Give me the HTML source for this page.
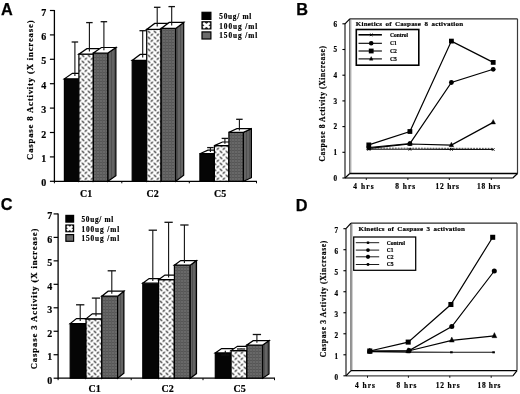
<!DOCTYPE html><html><head><meta charset="utf-8"><style>html,body{margin:0;padding:0;background:#fff;width:520px;height:394px;overflow:hidden}svg{display:block;filter:grayscale(1)}</style></head><body>
<svg width="520" height="394" viewBox="0 0 520 394">
<defs>
<pattern id="dots" patternUnits="userSpaceOnUse" width="6" height="6" x="3.4" y="0.3">
<rect width="6" height="6" fill="#fff"/>
<line x1="0.85" y1="0.85" x2="2.35" y2="2.35" stroke="#000" stroke-width="1.15" stroke-linecap="round"/>
<line x1="3.85" y1="5.15" x2="5.15" y2="3.85" stroke="#000" stroke-width="1.15" stroke-linecap="round"/>
</pattern>
<pattern id="legdots" patternUnits="userSpaceOnUse" width="4" height="4">
<rect width="4" height="4" fill="#fff"/>
<line x1="0.5" y1="0.5" x2="2" y2="2" stroke="#333" stroke-width="0.9"/>
</pattern>
<pattern id="gray" patternUnits="userSpaceOnUse" width="3" height="3">
<rect width="3" height="3" fill="#686868"/>
<rect width="3" height="1" fill="#565656"/>
<rect width="1" height="3" fill="#5c5c5c"/>
</pattern>
<pattern id="grayside" patternUnits="userSpaceOnUse" width="3" height="3">
<rect width="3" height="3" fill="#646464"/>
<rect width="1" height="3" fill="#505050"/>
</pattern>
</defs>
<rect width="520" height="394" fill="#fff"/>
<line x1="54.4" y1="10" x2="54.4" y2="181.9" stroke="#000" stroke-width="1.3" />
<line x1="49.9" y1="181.3" x2="54.4" y2="181.3" stroke="#000" stroke-width="1.2" />
<text x="46.3" y="186.3" font-size="10" font-weight="bold" font-family='"Liberation Serif", serif' text-anchor="end" fill="#000" stroke="#000" stroke-width="0.2" >0</text>
<line x1="49.9" y1="156.9" x2="54.4" y2="156.9" stroke="#000" stroke-width="1.2" />
<text x="46.3" y="161.9" font-size="10" font-weight="bold" font-family='"Liberation Serif", serif' text-anchor="end" fill="#000" stroke="#000" stroke-width="0.2" >1</text>
<line x1="49.9" y1="132.5" x2="54.4" y2="132.5" stroke="#000" stroke-width="1.2" />
<text x="46.3" y="137.5" font-size="10" font-weight="bold" font-family='"Liberation Serif", serif' text-anchor="end" fill="#000" stroke="#000" stroke-width="0.2" >2</text>
<line x1="49.9" y1="108.1" x2="54.4" y2="108.1" stroke="#000" stroke-width="1.2" />
<text x="46.3" y="113.1" font-size="10" font-weight="bold" font-family='"Liberation Serif", serif' text-anchor="end" fill="#000" stroke="#000" stroke-width="0.2" >3</text>
<line x1="49.9" y1="83.7" x2="54.4" y2="83.7" stroke="#000" stroke-width="1.2" />
<text x="46.3" y="88.7" font-size="10" font-weight="bold" font-family='"Liberation Serif", serif' text-anchor="end" fill="#000" stroke="#000" stroke-width="0.2" >4</text>
<line x1="49.9" y1="59.3" x2="54.4" y2="59.3" stroke="#000" stroke-width="1.2" />
<text x="46.3" y="64.3" font-size="10" font-weight="bold" font-family='"Liberation Serif", serif' text-anchor="end" fill="#000" stroke="#000" stroke-width="0.2" >5</text>
<line x1="49.9" y1="34.9" x2="54.4" y2="34.9" stroke="#000" stroke-width="1.2" />
<text x="46.3" y="39.9" font-size="10" font-weight="bold" font-family='"Liberation Serif", serif' text-anchor="end" fill="#000" stroke="#000" stroke-width="0.2" >6</text>
<line x1="49.9" y1="10.5" x2="54.4" y2="10.5" stroke="#000" stroke-width="1.2" />
<text x="46.3" y="15.5" font-size="10" font-weight="bold" font-family='"Liberation Serif", serif' text-anchor="end" fill="#000" stroke="#000" stroke-width="0.2" >7</text>
<line x1="54.4" y1="181.3" x2="257" y2="181.3" stroke="#000" stroke-width="1.3" />
<line x1="54.4" y1="181.3" x2="54.4" y2="183.3" stroke="#000" stroke-width="1" />
<line x1="121.8" y1="181.3" x2="121.8" y2="183.3" stroke="#000" stroke-width="1" />
<line x1="189.3" y1="181.3" x2="189.3" y2="183.3" stroke="#000" stroke-width="1" />
<line x1="256.5" y1="181.3" x2="256.5" y2="183.3" stroke="#000" stroke-width="1" />
<polygon points="64.4,78.8 78.9,78.8 78.9,181.3 64.4,181.3" fill="#050505" stroke="#000" stroke-width="1.2" stroke-linejoin="miter"/>
<polygon points="78.9,78.8 86.9,73.3 86.9,175.8 78.9,181.3" fill="#050505" stroke="#000" stroke-width="1.2" stroke-linejoin="miter"/>
<polygon points="64.4,78.8 78.9,78.8 86.9,73.3 72.4,73.3" fill="#fff" stroke="#000" stroke-width="1.2" stroke-linejoin="miter"/>
<polygon points="78.9,54.2 93.4,54.2 93.4,181.3 78.9,181.3" fill="url(#dots)" stroke="#000" stroke-width="1.2" stroke-linejoin="miter"/>
<polygon points="93.4,54.2 101.4,48.7 101.4,175.8 93.4,181.3" fill="#eee" stroke="#000" stroke-width="1.2" stroke-linejoin="miter"/>
<polygon points="78.9,54.2 93.4,54.2 101.4,48.7 86.9,48.7" fill="#fff" stroke="#000" stroke-width="1.2" stroke-linejoin="miter"/>
<polygon points="93.4,53 107.9,53 107.9,181.3 93.4,181.3" fill="url(#gray)" stroke="#000" stroke-width="1.2" stroke-linejoin="miter"/>
<polygon points="107.9,53 115.9,47.5 115.9,175.8 107.9,181.3" fill="url(#grayside)" stroke="#000" stroke-width="1.2" stroke-linejoin="miter"/>
<polygon points="93.4,53 107.9,53 115.9,47.5 101.4,47.5" fill="#fff" stroke="#000" stroke-width="1.2" stroke-linejoin="miter"/>
<line x1="74.9" y1="76.05" x2="74.9" y2="42" stroke="#111" stroke-width="1.1" />
<line x1="71.65" y1="42" x2="78.15" y2="42" stroke="#111" stroke-width="1.3" />
<line x1="89.4" y1="51.45" x2="89.4" y2="22.6" stroke="#111" stroke-width="1.1" />
<line x1="86.15" y1="22.6" x2="92.65" y2="22.6" stroke="#111" stroke-width="1.3" />
<line x1="103.9" y1="50.25" x2="103.9" y2="21.7" stroke="#111" stroke-width="1.1" />
<line x1="100.65" y1="21.7" x2="107.15" y2="21.7" stroke="#111" stroke-width="1.3" />
<polygon points="132.2,60.4 146.7,60.4 146.7,181.3 132.2,181.3" fill="#050505" stroke="#000" stroke-width="1.2" stroke-linejoin="miter"/>
<polygon points="146.7,60.4 154.7,54.4 154.7,175.3 146.7,181.3" fill="#050505" stroke="#000" stroke-width="1.2" stroke-linejoin="miter"/>
<polygon points="132.2,60.4 146.7,60.4 154.7,54.4 140.2,54.4" fill="#fff" stroke="#000" stroke-width="1.2" stroke-linejoin="miter"/>
<polygon points="146.7,29.4 161.2,29.4 161.2,181.3 146.7,181.3" fill="url(#dots)" stroke="#000" stroke-width="1.2" stroke-linejoin="miter"/>
<polygon points="161.2,29.4 169.2,23.4 169.2,175.3 161.2,181.3" fill="#eee" stroke="#000" stroke-width="1.2" stroke-linejoin="miter"/>
<polygon points="146.7,29.4 161.2,29.4 169.2,23.4 154.7,23.4" fill="#fff" stroke="#000" stroke-width="1.2" stroke-linejoin="miter"/>
<polygon points="161.2,28.4 175.7,28.4 175.7,181.3 161.2,181.3" fill="url(#gray)" stroke="#000" stroke-width="1.2" stroke-linejoin="miter"/>
<polygon points="175.7,28.4 183.7,22.4 183.7,175.3 175.7,181.3" fill="url(#grayside)" stroke="#000" stroke-width="1.2" stroke-linejoin="miter"/>
<polygon points="161.2,28.4 175.7,28.4 183.7,22.4 169.2,22.4" fill="#fff" stroke="#000" stroke-width="1.2" stroke-linejoin="miter"/>
<line x1="142.7" y1="57.4" x2="142.7" y2="30.7" stroke="#111" stroke-width="1.1" />
<line x1="139.45" y1="30.7" x2="145.95" y2="30.7" stroke="#111" stroke-width="1.3" />
<line x1="157.2" y1="26.4" x2="157.2" y2="7.3" stroke="#111" stroke-width="1.1" />
<line x1="153.95" y1="7.3" x2="160.45" y2="7.3" stroke="#111" stroke-width="1.3" />
<line x1="171.7" y1="25.4" x2="171.7" y2="6.6" stroke="#111" stroke-width="1.1" />
<line x1="168.45" y1="6.6" x2="174.95" y2="6.6" stroke="#111" stroke-width="1.3" />
<polygon points="199.9,153.7 214.4,153.7 214.4,181.3 199.9,181.3" fill="#050505" stroke="#000" stroke-width="1.2" stroke-linejoin="miter"/>
<polygon points="214.4,153.7 222.4,150.1 222.4,177.7 214.4,181.3" fill="#050505" stroke="#000" stroke-width="1.2" stroke-linejoin="miter"/>
<polygon points="199.9,153.7 214.4,153.7 222.4,150.1 207.9,150.1" fill="#fff" stroke="#000" stroke-width="1.2" stroke-linejoin="miter"/>
<polygon points="214.4,145.6 228.9,145.6 228.9,181.3 214.4,181.3" fill="url(#dots)" stroke="#000" stroke-width="1.2" stroke-linejoin="miter"/>
<polygon points="228.9,145.6 236.9,142 236.9,177.7 228.9,181.3" fill="#eee" stroke="#000" stroke-width="1.2" stroke-linejoin="miter"/>
<polygon points="214.4,145.6 228.9,145.6 236.9,142 222.4,142" fill="#fff" stroke="#000" stroke-width="1.2" stroke-linejoin="miter"/>
<polygon points="228.9,132.3 243.4,132.3 243.4,181.3 228.9,181.3" fill="url(#gray)" stroke="#000" stroke-width="1.2" stroke-linejoin="miter"/>
<polygon points="243.4,132.3 251.4,128.7 251.4,177.7 243.4,181.3" fill="url(#grayside)" stroke="#000" stroke-width="1.2" stroke-linejoin="miter"/>
<polygon points="228.9,132.3 243.4,132.3 251.4,128.7 236.9,128.7" fill="#fff" stroke="#000" stroke-width="1.2" stroke-linejoin="miter"/>
<line x1="210.4" y1="151.9" x2="210.4" y2="147.6" stroke="#111" stroke-width="1.1" />
<line x1="207.15" y1="147.6" x2="213.65" y2="147.6" stroke="#111" stroke-width="1.3" />
<line x1="224.9" y1="143.8" x2="224.9" y2="138.4" stroke="#111" stroke-width="1.1" />
<line x1="221.65" y1="138.4" x2="228.15" y2="138.4" stroke="#111" stroke-width="1.3" />
<line x1="239.4" y1="130.5" x2="239.4" y2="119.3" stroke="#111" stroke-width="1.1" />
<line x1="236.15" y1="119.3" x2="242.65" y2="119.3" stroke="#111" stroke-width="1.3" />
<text x="80" y="196.5" font-size="11.2" font-weight="bold" font-family='"Liberation Serif", serif' text-anchor="start" fill="#000" stroke="#000" stroke-width="0.2" textLength="12.2" lengthAdjust="spacingAndGlyphs" >C1</text>
<text x="146.5" y="196.5" font-size="11.2" font-weight="bold" font-family='"Liberation Serif", serif' text-anchor="start" fill="#000" stroke="#000" stroke-width="0.2" textLength="12.2" lengthAdjust="spacingAndGlyphs" >C2</text>
<text x="214.1" y="196.5" font-size="11.2" font-weight="bold" font-family='"Liberation Serif", serif' text-anchor="start" fill="#000" stroke="#000" stroke-width="0.2" textLength="12.2" lengthAdjust="spacingAndGlyphs" >C5</text>
<rect x="202" y="12.3" width="8.9" height="7.1" fill="#000" stroke="#000" stroke-width="1.2"/>
<text x="219.3" y="19" font-size="7.3" font-weight="bold" font-family='"Liberation Serif", serif' text-anchor="start" fill="#000" stroke="#000" stroke-width="0.2" textLength="32" lengthAdjust="spacing" >50ug/ ml</text>
<rect x="202" y="21.8" width="8.9" height="7.1" fill="#333" stroke="#000" stroke-width="1.2"/>
<path d="M203.2,23 L209.7,27.7 M209.7,23 L203.2,27.7" stroke="#fff" stroke-width="2.3"/>
<text x="219.3" y="28.5" font-size="7.3" font-weight="bold" font-family='"Liberation Serif", serif' text-anchor="start" fill="#000" stroke="#000" stroke-width="0.2" textLength="38" lengthAdjust="spacing" >100ug /ml</text>
<rect x="202" y="31.9" width="8.9" height="7.1" fill="#6c6c6c" stroke="#000" stroke-width="1.2"/>
<text x="219.3" y="38.4" font-size="7.3" font-weight="bold" font-family='"Liberation Serif", serif' text-anchor="start" fill="#000" stroke="#000" stroke-width="0.2" textLength="38" lengthAdjust="spacing" >150ug /ml</text>
<text x="33.3" y="90.2" font-size="8.7" font-weight="bold" font-family='"Liberation Serif", serif' text-anchor="middle" fill="#000" stroke="#000" stroke-width="0.2" textLength="139.5" lengthAdjust="spacing" transform="rotate(-90 33.3 90.2)" >Caspase 8 Activity (X increase)</text>
<text x="0.9" y="14.9" font-size="16.3" font-weight="bold" font-family='"Liberation Sans", sans-serif' text-anchor="start" fill="#000" stroke="#000" stroke-width="0.25">A</text>
<line x1="58.1" y1="213.41" x2="58.1" y2="378.8" stroke="#000" stroke-width="1.3" />
<line x1="53.6" y1="378.2" x2="58.1" y2="378.2" stroke="#000" stroke-width="1.2" />
<text x="52.2" y="383.5" font-size="10" font-weight="bold" font-family='"Liberation Serif", serif' text-anchor="end" fill="#000" stroke="#000" stroke-width="0.2" >0</text>
<line x1="53.6" y1="354.73" x2="58.1" y2="354.73" stroke="#000" stroke-width="1.2" />
<text x="52.2" y="360.03" font-size="10" font-weight="bold" font-family='"Liberation Serif", serif' text-anchor="end" fill="#000" stroke="#000" stroke-width="0.2" >1</text>
<line x1="53.6" y1="331.26" x2="58.1" y2="331.26" stroke="#000" stroke-width="1.2" />
<text x="52.2" y="336.56" font-size="10" font-weight="bold" font-family='"Liberation Serif", serif' text-anchor="end" fill="#000" stroke="#000" stroke-width="0.2" >2</text>
<line x1="53.6" y1="307.79" x2="58.1" y2="307.79" stroke="#000" stroke-width="1.2" />
<text x="52.2" y="313.09" font-size="10" font-weight="bold" font-family='"Liberation Serif", serif' text-anchor="end" fill="#000" stroke="#000" stroke-width="0.2" >3</text>
<line x1="53.6" y1="284.32" x2="58.1" y2="284.32" stroke="#000" stroke-width="1.2" />
<text x="52.2" y="289.62" font-size="10" font-weight="bold" font-family='"Liberation Serif", serif' text-anchor="end" fill="#000" stroke="#000" stroke-width="0.2" >4</text>
<line x1="53.6" y1="260.85" x2="58.1" y2="260.85" stroke="#000" stroke-width="1.2" />
<text x="52.2" y="266.15" font-size="10" font-weight="bold" font-family='"Liberation Serif", serif' text-anchor="end" fill="#000" stroke="#000" stroke-width="0.2" >5</text>
<line x1="53.6" y1="237.38" x2="58.1" y2="237.38" stroke="#000" stroke-width="1.2" />
<text x="52.2" y="242.68" font-size="10" font-weight="bold" font-family='"Liberation Serif", serif' text-anchor="end" fill="#000" stroke="#000" stroke-width="0.2" >6</text>
<line x1="53.6" y1="213.91" x2="58.1" y2="213.91" stroke="#000" stroke-width="1.2" />
<text x="52.2" y="219.21" font-size="10" font-weight="bold" font-family='"Liberation Serif", serif' text-anchor="end" fill="#000" stroke="#000" stroke-width="0.2" >7</text>
<line x1="58.1" y1="378.2" x2="275" y2="378.2" stroke="#000" stroke-width="1.3" />
<line x1="58.1" y1="378.2" x2="58.1" y2="380.2" stroke="#000" stroke-width="1" />
<line x1="131.2" y1="378.2" x2="131.2" y2="380.2" stroke="#000" stroke-width="1" />
<line x1="203" y1="378.2" x2="203" y2="380.2" stroke="#000" stroke-width="1" />
<line x1="274.5" y1="378.2" x2="274.5" y2="380.2" stroke="#000" stroke-width="1" />
<polygon points="70.2,323.6 86,323.6 86,378.2 70.2,378.2" fill="#050505" stroke="#000" stroke-width="1.2" stroke-linejoin="miter"/>
<polygon points="86,323.6 92.3,318.6 92.3,373.2 86,378.2" fill="#050505" stroke="#000" stroke-width="1.2" stroke-linejoin="miter"/>
<polygon points="70.2,323.6 86,323.6 92.3,318.6 76.5,318.6" fill="#fff" stroke="#000" stroke-width="1.2" stroke-linejoin="miter"/>
<polygon points="86,318.8 101.8,318.8 101.8,378.2 86,378.2" fill="url(#dots)" stroke="#000" stroke-width="1.2" stroke-linejoin="miter"/>
<polygon points="101.8,318.8 108.1,313.8 108.1,373.2 101.8,378.2" fill="#eee" stroke="#000" stroke-width="1.2" stroke-linejoin="miter"/>
<polygon points="86,318.8 101.8,318.8 108.1,313.8 92.3,313.8" fill="#fff" stroke="#000" stroke-width="1.2" stroke-linejoin="miter"/>
<polygon points="101.8,296.2 117.6,296.2 117.6,378.2 101.8,378.2" fill="url(#gray)" stroke="#000" stroke-width="1.2" stroke-linejoin="miter"/>
<polygon points="117.6,296.2 123.9,291.2 123.9,373.2 117.6,378.2" fill="url(#grayside)" stroke="#000" stroke-width="1.2" stroke-linejoin="miter"/>
<polygon points="101.8,296.2 117.6,296.2 123.9,291.2 108.1,291.2" fill="#fff" stroke="#000" stroke-width="1.2" stroke-linejoin="miter"/>
<line x1="80.2" y1="321.1" x2="80.2" y2="304.8" stroke="#111" stroke-width="1.1" />
<line x1="76.05" y1="304.8" x2="84.35" y2="304.8" stroke="#111" stroke-width="1.3" />
<line x1="96" y1="316.3" x2="96" y2="298.1" stroke="#111" stroke-width="1.1" />
<line x1="91.85" y1="298.1" x2="100.15" y2="298.1" stroke="#111" stroke-width="1.3" />
<line x1="111.8" y1="293.7" x2="111.8" y2="270.8" stroke="#111" stroke-width="1.1" />
<line x1="107.65" y1="270.8" x2="115.95" y2="270.8" stroke="#111" stroke-width="1.3" />
<polygon points="142.8,283.2 158.6,283.2 158.6,378.2 142.8,378.2" fill="#050505" stroke="#000" stroke-width="1.2" stroke-linejoin="miter"/>
<polygon points="158.6,283.2 164.9,278.6 164.9,373.6 158.6,378.2" fill="#050505" stroke="#000" stroke-width="1.2" stroke-linejoin="miter"/>
<polygon points="142.8,283.2 158.6,283.2 164.9,278.6 149.1,278.6" fill="#fff" stroke="#000" stroke-width="1.2" stroke-linejoin="miter"/>
<polygon points="158.6,279.7 174.4,279.7 174.4,378.2 158.6,378.2" fill="url(#dots)" stroke="#000" stroke-width="1.2" stroke-linejoin="miter"/>
<polygon points="174.4,279.7 180.7,275.1 180.7,373.6 174.4,378.2" fill="#eee" stroke="#000" stroke-width="1.2" stroke-linejoin="miter"/>
<polygon points="158.6,279.7 174.4,279.7 180.7,275.1 164.9,275.1" fill="#fff" stroke="#000" stroke-width="1.2" stroke-linejoin="miter"/>
<polygon points="174.4,265.2 190.2,265.2 190.2,378.2 174.4,378.2" fill="url(#gray)" stroke="#000" stroke-width="1.2" stroke-linejoin="miter"/>
<polygon points="190.2,265.2 196.5,260.6 196.5,373.6 190.2,378.2" fill="url(#grayside)" stroke="#000" stroke-width="1.2" stroke-linejoin="miter"/>
<polygon points="174.4,265.2 190.2,265.2 196.5,260.6 180.7,260.6" fill="#fff" stroke="#000" stroke-width="1.2" stroke-linejoin="miter"/>
<line x1="152.8" y1="280.9" x2="152.8" y2="230.2" stroke="#111" stroke-width="1.1" />
<line x1="148.65" y1="230.2" x2="156.95" y2="230.2" stroke="#111" stroke-width="1.3" />
<line x1="168.6" y1="277.4" x2="168.6" y2="222.3" stroke="#111" stroke-width="1.1" />
<line x1="164.45" y1="222.3" x2="172.75" y2="222.3" stroke="#111" stroke-width="1.3" />
<line x1="184.4" y1="262.9" x2="184.4" y2="225" stroke="#111" stroke-width="1.1" />
<line x1="180.25" y1="225" x2="188.55" y2="225" stroke="#111" stroke-width="1.3" />
<polygon points="215.3,352.9 231.1,352.9 231.1,378.2 215.3,378.2" fill="#050505" stroke="#000" stroke-width="1.2" stroke-linejoin="miter"/>
<polygon points="231.1,352.9 237.4,348.6 237.4,373.9 231.1,378.2" fill="#050505" stroke="#000" stroke-width="1.2" stroke-linejoin="miter"/>
<polygon points="215.3,352.9 231.1,352.9 237.4,348.6 221.6,348.6" fill="#fff" stroke="#000" stroke-width="1.2" stroke-linejoin="miter"/>
<polygon points="231.1,350.6 246.9,350.6 246.9,378.2 231.1,378.2" fill="url(#dots)" stroke="#000" stroke-width="1.2" stroke-linejoin="miter"/>
<polygon points="246.9,350.6 253.2,346.3 253.2,373.9 246.9,378.2" fill="#eee" stroke="#000" stroke-width="1.2" stroke-linejoin="miter"/>
<polygon points="231.1,350.6 246.9,350.6 253.2,346.3 237.4,346.3" fill="#fff" stroke="#000" stroke-width="1.2" stroke-linejoin="miter"/>
<polygon points="246.9,345 262.7,345 262.7,378.2 246.9,378.2" fill="url(#gray)" stroke="#000" stroke-width="1.2" stroke-linejoin="miter"/>
<polygon points="262.7,345 269,340.7 269,373.9 262.7,378.2" fill="url(#grayside)" stroke="#000" stroke-width="1.2" stroke-linejoin="miter"/>
<polygon points="246.9,345 262.7,345 269,340.7 253.2,340.7" fill="#fff" stroke="#000" stroke-width="1.2" stroke-linejoin="miter"/>
<line x1="225.3" y1="350.75" x2="225.3" y2="355" stroke="#111" stroke-width="1.1" />
<line x1="221.15" y1="355" x2="229.45" y2="355" stroke="#111" stroke-width="1.3" />
<line x1="241.1" y1="348.45" x2="241.1" y2="349" stroke="#111" stroke-width="1.1" />
<line x1="236.95" y1="349" x2="245.25" y2="349" stroke="#111" stroke-width="1.3" />
<line x1="256.9" y1="342.85" x2="256.9" y2="334.5" stroke="#111" stroke-width="1.1" />
<line x1="252.75" y1="334.5" x2="261.05" y2="334.5" stroke="#111" stroke-width="1.3" />
<text x="88.6" y="392.3" font-size="11.2" font-weight="bold" font-family='"Liberation Serif", serif' text-anchor="start" fill="#000" stroke="#000" stroke-width="0.2" textLength="12.3" lengthAdjust="spacingAndGlyphs" >C1</text>
<text x="161.5" y="392.3" font-size="11.2" font-weight="bold" font-family='"Liberation Serif", serif' text-anchor="start" fill="#000" stroke="#000" stroke-width="0.2" textLength="12.3" lengthAdjust="spacingAndGlyphs" >C2</text>
<text x="233.5" y="392.3" font-size="11.2" font-weight="bold" font-family='"Liberation Serif", serif' text-anchor="start" fill="#000" stroke="#000" stroke-width="0.2" textLength="12.3" lengthAdjust="spacingAndGlyphs" >C5</text>
<rect x="65.9" y="215.4" width="7.7" height="6.7" fill="#000" stroke="#000" stroke-width="1.2"/>
<text x="81.5" y="221.6" font-size="7.3" font-weight="bold" font-family='"Liberation Serif", serif' text-anchor="start" fill="#000" stroke="#000" stroke-width="0.2" textLength="31.7" lengthAdjust="spacing" >50ug/ ml</text>
<rect x="65.9" y="225" width="7.7" height="6.7" fill="#333" stroke="#000" stroke-width="1.2"/>
<path d="M67.1,226.2 L72.4,230.5 M72.4,226.2 L67.1,230.5" stroke="#fff" stroke-width="2.3"/>
<text x="81.5" y="231.6" font-size="7.3" font-weight="bold" font-family='"Liberation Serif", serif' text-anchor="start" fill="#000" stroke="#000" stroke-width="0.2" textLength="37.7" lengthAdjust="spacing" >100ug /ml</text>
<rect x="65.9" y="234.6" width="7.7" height="6.7" fill="#6c6c6c" stroke="#000" stroke-width="1.2"/>
<text x="81.5" y="241.4" font-size="7.3" font-weight="bold" font-family='"Liberation Serif", serif' text-anchor="start" fill="#000" stroke="#000" stroke-width="0.2" textLength="37.7" lengthAdjust="spacing" >150ug /ml</text>
<text x="37.3" y="298.9" font-size="8.7" font-weight="bold" font-family='"Liberation Serif", serif' text-anchor="middle" fill="#000" stroke="#000" stroke-width="0.2" textLength="140.8" lengthAdjust="spacing" transform="rotate(-90 37.3 298.9)" >Caspase 3 Activity (X increase)</text>
<text x="0.7" y="210.4" font-size="16.3" font-weight="bold" font-family='"Liberation Sans", sans-serif' text-anchor="start" fill="#000" stroke="#000" stroke-width="0.25">C</text>
<line x1="349.8" y1="18.8" x2="517.5" y2="18.8" stroke="#2a2a2a" stroke-width="1.3" />
<line x1="517.5" y1="18.8" x2="517.5" y2="173.5" stroke="#3a3a3a" stroke-width="1.2" />
<line x1="349.8" y1="18.8" x2="349.8" y2="173.5" stroke="#555" stroke-width="1.3" />
<line x1="351" y1="19.8" x2="351" y2="173.5" stroke="#aaa" stroke-width="0.8" />
<line x1="349.8" y1="173.5" x2="517.5" y2="173.5" stroke="#000" stroke-width="1.3" />
<line x1="345" y1="23.8" x2="345" y2="178" stroke="#333" stroke-width="1.3" />
<line x1="345" y1="23.8" x2="349.8" y2="18.8" stroke="#000" stroke-width="1.2" />
<line x1="345" y1="178" x2="512.8" y2="178" stroke="#444" stroke-width="1.3" />
<line x1="512.8" y1="178" x2="517.5" y2="173.5" stroke="#000" stroke-width="1.2" />
<line x1="345" y1="178" x2="349.8" y2="173.5" stroke="#000" stroke-width="1.2" />
<line x1="342.4" y1="178" x2="345" y2="178" stroke="#000" stroke-width="1.1" />
<text x="337.2" y="180.7" font-size="7.2" font-weight="bold" font-family='"Liberation Serif", serif' text-anchor="end" fill="#000" stroke="#000" stroke-width="0.2" >0</text>
<line x1="342.4" y1="152.3" x2="345" y2="152.3" stroke="#000" stroke-width="1.1" />
<text x="337.2" y="155" font-size="7.2" font-weight="bold" font-family='"Liberation Serif", serif' text-anchor="end" fill="#000" stroke="#000" stroke-width="0.2" >1</text>
<line x1="342.4" y1="126.6" x2="345" y2="126.6" stroke="#000" stroke-width="1.1" />
<text x="337.2" y="129.3" font-size="7.2" font-weight="bold" font-family='"Liberation Serif", serif' text-anchor="end" fill="#000" stroke="#000" stroke-width="0.2" >2</text>
<line x1="342.4" y1="100.9" x2="345" y2="100.9" stroke="#000" stroke-width="1.1" />
<text x="337.2" y="103.6" font-size="7.2" font-weight="bold" font-family='"Liberation Serif", serif' text-anchor="end" fill="#000" stroke="#000" stroke-width="0.2" >3</text>
<line x1="342.4" y1="75.2" x2="345" y2="75.2" stroke="#000" stroke-width="1.1" />
<text x="337.2" y="77.9" font-size="7.2" font-weight="bold" font-family='"Liberation Serif", serif' text-anchor="end" fill="#000" stroke="#000" stroke-width="0.2" >4</text>
<line x1="342.4" y1="49.5" x2="345" y2="49.5" stroke="#000" stroke-width="1.1" />
<text x="337.2" y="52.2" font-size="7.2" font-weight="bold" font-family='"Liberation Serif", serif' text-anchor="end" fill="#000" stroke="#000" stroke-width="0.2" >5</text>
<line x1="342.4" y1="23.8" x2="345" y2="23.8" stroke="#000" stroke-width="1.1" />
<text x="337.2" y="26.5" font-size="7.2" font-weight="bold" font-family='"Liberation Serif", serif' text-anchor="end" fill="#000" stroke="#000" stroke-width="0.2" >6</text>
<line x1="366.3" y1="178" x2="366.3" y2="180" stroke="#000" stroke-width="0.9" />
<line x1="407.9" y1="178" x2="407.9" y2="180" stroke="#000" stroke-width="0.9" />
<line x1="449.3" y1="178" x2="449.3" y2="180" stroke="#000" stroke-width="0.9" />
<line x1="491.3" y1="178" x2="491.3" y2="180" stroke="#000" stroke-width="0.9" />
<text x="353.2" y="189.1" font-size="7.4" font-weight="bold" font-family='"Liberation Serif", serif' text-anchor="start" fill="#000" stroke="#000" stroke-width="0.2" textLength="20.5" lengthAdjust="spacing" >4 hrs</text>
<text x="395.2" y="189.1" font-size="7.4" font-weight="bold" font-family='"Liberation Serif", serif' text-anchor="start" fill="#000" stroke="#000" stroke-width="0.2" textLength="20" lengthAdjust="spacing" >8 hrs</text>
<text x="435.6" y="189.1" font-size="7.4" font-weight="bold" font-family='"Liberation Serif", serif' text-anchor="start" fill="#000" stroke="#000" stroke-width="0.2" textLength="23.4" lengthAdjust="spacing" >12 hrs</text>
<text x="477" y="189.1" font-size="7.4" font-weight="bold" font-family='"Liberation Serif", serif' text-anchor="start" fill="#000" stroke="#000" stroke-width="0.2" textLength="23.2" lengthAdjust="spacing" >18 hrs</text>
<text x="355.8" y="25.5" font-size="7" font-weight="bold" font-family='"Liberation Serif", serif' text-anchor="start" fill="#000" stroke="#000" stroke-width="0.2" textLength="107.3" lengthAdjust="spacing" word-spacing="1.3">Kinetics of Caspase 8 activation</text>
<rect x="356.3" y="29.5" width="62.5" height="35.7" fill="#fff" stroke="#000" stroke-width="1.6"/>
<line x1="358.5" y1="34.8" x2="381.9" y2="34.8" stroke="#000" stroke-width="1.6" />
<line x1="369.9" y1="33.5" x2="372.5" y2="36.1" stroke="#000" stroke-width="0.9" />
<line x1="369.9" y1="36.1" x2="372.5" y2="33.5" stroke="#000" stroke-width="0.9" />
<text x="390" y="36.7" font-size="5.8" font-weight="bold" font-family='"Liberation Serif", serif' textLength="18.1" lengthAdjust="spacingAndGlyphs" stroke="#000" stroke-width="0.2">Control</text>
<line x1="358.5" y1="43.3" x2="381.9" y2="43.3" stroke="#000" stroke-width="1.1" />
<circle cx="371.2" cy="43.3" r="2.3" fill="#000"/>
<text x="390" y="45.2" font-size="5.8" font-weight="bold" font-family='"Liberation Serif", serif' textLength="6.6" lengthAdjust="spacingAndGlyphs" stroke="#000" stroke-width="0.2">C1</text>
<line x1="358.5" y1="51" x2="381.9" y2="51" stroke="#000" stroke-width="1.1" />
<rect x="368.8" y="48.6" width="4.8" height="4.8" fill="#000"/>
<text x="390" y="52.9" font-size="5.8" font-weight="bold" font-family='"Liberation Serif", serif' textLength="6.8" lengthAdjust="spacingAndGlyphs" stroke="#000" stroke-width="0.2">C2</text>
<line x1="358.5" y1="58.9" x2="381.9" y2="58.9" stroke="#000" stroke-width="1.1" />
<polygon points="369.36,60.13 373.04,60.13 371.2,56.61" fill="#000" stroke="#000" stroke-width="0.4" stroke-linejoin="miter"/>
<text x="390" y="60.8" font-size="5.8" font-weight="bold" font-family='"Liberation Serif", serif' textLength="6.8" lengthAdjust="spacingAndGlyphs" stroke="#000" stroke-width="0.2">C5</text>
<polyline points="368.8,149.2 409.9,149.3 451.4,149.4 493.2,149.5" fill="none" stroke="#111" stroke-width="1.1"/>
<polyline points="368.8,148.1 409.9,148.2 451.4,148.3 493.2,148.4" fill="none" stroke="#333" stroke-width="0.9" stroke-dasharray="1.8 1.1"/>
<line x1="367.5" y1="147.9" x2="370.1" y2="150.5" stroke="#000" stroke-width="0.9" />
<line x1="367.5" y1="150.5" x2="370.1" y2="147.9" stroke="#000" stroke-width="0.9" />
<line x1="408.6" y1="148" x2="411.2" y2="150.6" stroke="#000" stroke-width="0.9" />
<line x1="408.6" y1="150.6" x2="411.2" y2="148" stroke="#000" stroke-width="0.9" />
<line x1="450.1" y1="148.1" x2="452.7" y2="150.7" stroke="#000" stroke-width="0.9" />
<line x1="450.1" y1="150.7" x2="452.7" y2="148.1" stroke="#000" stroke-width="0.9" />
<line x1="491.9" y1="148.2" x2="494.5" y2="150.8" stroke="#000" stroke-width="0.9" />
<line x1="491.9" y1="150.8" x2="494.5" y2="148.2" stroke="#000" stroke-width="0.9" />
<polyline points="368.8,148.3 409.9,144 451.4,145.1 493.2,122.4" fill="none" stroke="#000" stroke-width="1.2"/>
<polygon points="366.5,149.84 371.1,149.84 368.8,145.44" fill="#000" stroke="#000" stroke-width="0.4" stroke-linejoin="miter"/>
<polygon points="407.6,145.54 412.2,145.54 409.9,141.14" fill="#000" stroke="#000" stroke-width="0.4" stroke-linejoin="miter"/>
<polygon points="449.1,146.64 453.7,146.64 451.4,142.24" fill="#000" stroke="#000" stroke-width="0.4" stroke-linejoin="miter"/>
<polygon points="490.9,123.94 495.5,123.94 493.2,119.54" fill="#000" stroke="#000" stroke-width="0.4" stroke-linejoin="miter"/>
<polyline points="368.8,147.5 409.9,143.6 451.4,82.5 493.2,69.3" fill="none" stroke="#000" stroke-width="1.2"/>
<circle cx="368.8" cy="147.5" r="2.42" fill="#000"/>
<circle cx="409.9" cy="143.6" r="2.42" fill="#000"/>
<circle cx="451.4" cy="82.5" r="2.42" fill="#000"/>
<circle cx="493.2" cy="69.3" r="2.42" fill="#000"/>
<polyline points="368.8,144.9 409.9,131.5 451.4,41.1 493.2,62.4" fill="none" stroke="#000" stroke-width="1.2"/>
<rect x="366.4" y="142.5" width="4.8" height="4.8" fill="#000"/>
<rect x="407.5" y="129.1" width="4.8" height="4.8" fill="#000"/>
<rect x="449" y="38.7" width="4.8" height="4.8" fill="#000"/>
<rect x="490.8" y="60" width="4.8" height="4.8" fill="#000"/>
<text x="324.7" y="103.8" font-size="7.6" font-weight="bold" font-family='"Liberation Serif", serif' text-anchor="middle" fill="#000" stroke="#000" stroke-width="0.2" textLength="115.5" lengthAdjust="spacing" transform="rotate(-90 324.7 103.8)" >Caspase 8 Activity (Xincrease)</text>
<text x="296.3" y="14.5" font-size="16.3" font-weight="bold" font-family='"Liberation Sans", sans-serif' text-anchor="start" fill="#000" stroke="#000" stroke-width="0.25">B</text>
<line x1="351" y1="223.2" x2="517" y2="223.2" stroke="#2a2a2a" stroke-width="1.3" />
<line x1="517" y1="223.2" x2="517" y2="370.6" stroke="#3a3a3a" stroke-width="1.2" />
<line x1="351" y1="223.2" x2="351" y2="370.6" stroke="#555" stroke-width="1.3" />
<line x1="352.2" y1="224.2" x2="352.2" y2="370.6" stroke="#aaa" stroke-width="0.8" />
<line x1="351" y1="370.6" x2="517" y2="370.6" stroke="#000" stroke-width="1.3" />
<line x1="346" y1="228.7" x2="346" y2="375.8" stroke="#333" stroke-width="1.3" />
<line x1="346" y1="228.7" x2="351" y2="223.2" stroke="#000" stroke-width="1.2" />
<line x1="346" y1="375.8" x2="512.9" y2="375.8" stroke="#444" stroke-width="1.3" />
<line x1="512.9" y1="375.8" x2="517" y2="370.6" stroke="#000" stroke-width="1.2" />
<line x1="346" y1="375.8" x2="351" y2="370.6" stroke="#000" stroke-width="1.2" />
<line x1="343.4" y1="375.8" x2="346" y2="375.8" stroke="#000" stroke-width="1.1" />
<text x="338" y="379.6" font-size="7.2" font-weight="bold" font-family='"Liberation Serif", serif' text-anchor="end" fill="#000" stroke="#000" stroke-width="0.2" >0</text>
<line x1="343.4" y1="354.79" x2="346" y2="354.79" stroke="#000" stroke-width="1.1" />
<text x="338" y="358.59" font-size="7.2" font-weight="bold" font-family='"Liberation Serif", serif' text-anchor="end" fill="#000" stroke="#000" stroke-width="0.2" >1</text>
<line x1="343.4" y1="333.77" x2="346" y2="333.77" stroke="#000" stroke-width="1.1" />
<text x="338" y="337.57" font-size="7.2" font-weight="bold" font-family='"Liberation Serif", serif' text-anchor="end" fill="#000" stroke="#000" stroke-width="0.2" >2</text>
<line x1="343.4" y1="312.76" x2="346" y2="312.76" stroke="#000" stroke-width="1.1" />
<text x="338" y="316.56" font-size="7.2" font-weight="bold" font-family='"Liberation Serif", serif' text-anchor="end" fill="#000" stroke="#000" stroke-width="0.2" >3</text>
<line x1="343.4" y1="291.74" x2="346" y2="291.74" stroke="#000" stroke-width="1.1" />
<text x="338" y="295.54" font-size="7.2" font-weight="bold" font-family='"Liberation Serif", serif' text-anchor="end" fill="#000" stroke="#000" stroke-width="0.2" >4</text>
<line x1="343.4" y1="270.73" x2="346" y2="270.73" stroke="#000" stroke-width="1.1" />
<text x="338" y="274.53" font-size="7.2" font-weight="bold" font-family='"Liberation Serif", serif' text-anchor="end" fill="#000" stroke="#000" stroke-width="0.2" >5</text>
<line x1="343.4" y1="249.71" x2="346" y2="249.71" stroke="#000" stroke-width="1.1" />
<text x="338" y="253.51" font-size="7.2" font-weight="bold" font-family='"Liberation Serif", serif' text-anchor="end" fill="#000" stroke="#000" stroke-width="0.2" >6</text>
<line x1="343.4" y1="228.7" x2="346" y2="228.7" stroke="#000" stroke-width="1.1" />
<text x="338" y="232.5" font-size="7.2" font-weight="bold" font-family='"Liberation Serif", serif' text-anchor="end" fill="#000" stroke="#000" stroke-width="0.2" >7</text>
<line x1="367.5" y1="375.8" x2="367.5" y2="377.8" stroke="#000" stroke-width="0.9" />
<line x1="408.4" y1="375.8" x2="408.4" y2="377.8" stroke="#000" stroke-width="0.9" />
<line x1="449.8" y1="375.8" x2="449.8" y2="377.8" stroke="#000" stroke-width="0.9" />
<line x1="491.2" y1="375.8" x2="491.2" y2="377.8" stroke="#000" stroke-width="0.9" />
<text x="355" y="387.6" font-size="7.4" font-weight="bold" font-family='"Liberation Serif", serif' text-anchor="start" fill="#000" stroke="#000" stroke-width="0.2" textLength="19.9" lengthAdjust="spacing" >4 hrs</text>
<text x="396.5" y="387.6" font-size="7.4" font-weight="bold" font-family='"Liberation Serif", serif' text-anchor="start" fill="#000" stroke="#000" stroke-width="0.2" textLength="19.8" lengthAdjust="spacing" >8 hrs</text>
<text x="435.8" y="387.6" font-size="7.4" font-weight="bold" font-family='"Liberation Serif", serif' text-anchor="start" fill="#000" stroke="#000" stroke-width="0.2" textLength="23.8" lengthAdjust="spacing" >12 hrs</text>
<text x="477.5" y="387.6" font-size="7.4" font-weight="bold" font-family='"Liberation Serif", serif' text-anchor="start" fill="#000" stroke="#000" stroke-width="0.2" textLength="23" lengthAdjust="spacing" >18 hrs</text>
<text x="358.5" y="231" font-size="7" font-weight="bold" font-family='"Liberation Serif", serif' text-anchor="start" fill="#000" stroke="#000" stroke-width="0.2" textLength="106.3" lengthAdjust="spacing" word-spacing="1.3">Kinetics of Caspase 3 activation</text>
<rect x="353.7" y="237" width="62" height="33.3" fill="#fff" stroke="#000" stroke-width="1.25"/>
<line x1="355.8" y1="242.7" x2="379.2" y2="242.7" stroke="#000" stroke-width="0.9" />
<rect x="366.8" y="241.5" width="2.4" height="2.4" fill="#000"/>
<text x="386.8" y="244.6" font-size="5.8" font-weight="bold" font-family='"Liberation Serif", serif' textLength="18.2" lengthAdjust="spacingAndGlyphs" stroke="#000" stroke-width="0.2">Control</text>
<line x1="355.8" y1="250.1" x2="379.2" y2="250.1" stroke="#000" stroke-width="0.9" />
<circle cx="368" cy="250.1" r="1.84" fill="#000"/>
<text x="386.8" y="252" font-size="5.8" font-weight="bold" font-family='"Liberation Serif", serif' textLength="6.6" lengthAdjust="spacingAndGlyphs" stroke="#000" stroke-width="0.2">C1</text>
<line x1="355.8" y1="256.8" x2="379.2" y2="256.8" stroke="#000" stroke-width="0.9" />
<circle cx="368" cy="256.8" r="2.12" fill="#000"/>
<text x="386.8" y="258.7" font-size="5.8" font-weight="bold" font-family='"Liberation Serif", serif' textLength="6.8" lengthAdjust="spacingAndGlyphs" stroke="#000" stroke-width="0.2">C2</text>
<line x1="355.8" y1="264.5" x2="379.2" y2="264.5" stroke="#000" stroke-width="0.9" />
<circle cx="368" cy="264.5" r="1.49" fill="#000"/>
<text x="386.8" y="266.4" font-size="5.8" font-weight="bold" font-family='"Liberation Serif", serif' textLength="6.8" lengthAdjust="spacingAndGlyphs" stroke="#000" stroke-width="0.2">C5</text>
<polyline points="369.8,351.6 408.2,352.1 451.4,352.3 493.6,352.3" fill="none" stroke="#111" stroke-width="1.1"/>
<rect x="368.5" y="350.6" width="2.6" height="2" fill="#000"/>
<rect x="406.9" y="351.1" width="2.6" height="2" fill="#000"/>
<rect x="450.1" y="351.3" width="2.6" height="2" fill="#000"/>
<rect x="492.3" y="351.3" width="2.6" height="2" fill="#000"/>
<polyline points="369.8,351.4 408.2,351 451.8,340.3 494.4,335.9" fill="none" stroke="#000" stroke-width="1.2"/>
<polygon points="367.35,353.19 372.25,353.19 369.8,348.08" fill="#000" stroke="#000" stroke-width="0.4" stroke-linejoin="miter"/>
<polygon points="405.75,352.79 410.65,352.79 408.2,347.69" fill="#000" stroke="#000" stroke-width="0.4" stroke-linejoin="miter"/>
<polygon points="449.35,342.09 454.25,342.09 451.8,336.99" fill="#000" stroke="#000" stroke-width="0.4" stroke-linejoin="miter"/>
<polygon points="491.95,337.69 496.85,337.69 494.4,332.58" fill="#000" stroke="#000" stroke-width="0.4" stroke-linejoin="miter"/>
<polyline points="369.8,351.2 409.1,350.6 451.8,326.5 494.3,271" fill="none" stroke="#000" stroke-width="1.2"/>
<circle cx="369.8" cy="351.2" r="2.53" fill="#000"/>
<circle cx="409.1" cy="350.6" r="2.53" fill="#000"/>
<circle cx="451.8" cy="326.5" r="2.53" fill="#000"/>
<circle cx="494.3" cy="271" r="2.53" fill="#000"/>
<polyline points="369.8,351 408.2,342.1 450.9,304.5 492.7,237.3" fill="none" stroke="#000" stroke-width="1.2"/>
<rect x="367.28" y="348.48" width="5.04" height="5.04" fill="#000"/>
<rect x="405.68" y="339.58" width="5.04" height="5.04" fill="#000"/>
<rect x="448.38" y="301.98" width="5.04" height="5.04" fill="#000"/>
<rect x="490.18" y="234.78" width="5.04" height="5.04" fill="#000"/>
<text x="325.9" y="299" font-size="7.6" font-weight="bold" font-family='"Liberation Serif", serif' text-anchor="middle" fill="#000" stroke="#000" stroke-width="0.2" textLength="116.6" lengthAdjust="spacing" transform="rotate(-90 325.9 299)" >Caspase 3 Activity (Xincrease)</text>
<text x="295.7" y="210.5" font-size="16.3" font-weight="bold" font-family='"Liberation Sans", sans-serif' text-anchor="start" fill="#000" stroke="#000" stroke-width="0.25">D</text>
</svg></body></html>
